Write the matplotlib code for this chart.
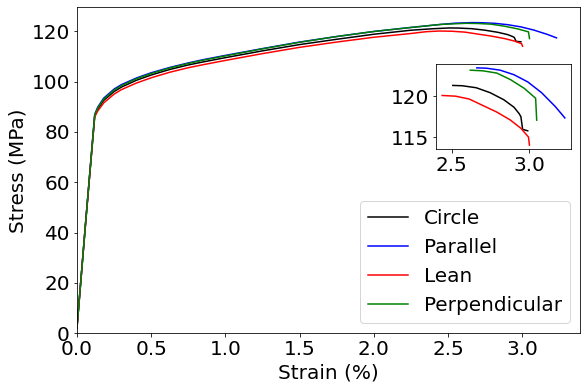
import matplotlib
matplotlib.use("Agg")
import matplotlib.pyplot as plt

# stress-strain data
circle_x = [0, 0.06, 0.12, 0.14, 0.18, 0.25, 0.3, 0.4, 0.5, 0.625, 0.75, 0.85, 1.0, 1.25, 1.5, 1.75, 2.0, 2.25, 2.4,
            2.507, 2.569, 2.658, 2.747, 2.836, 2.902, 2.936, 2.947, 2.958, 2.991]
circle_y = [2, 45, 86.5, 89, 92.5, 96, 97.8, 100.5, 102.6, 104.8, 106.6, 107.8, 109.5, 112.2, 114.7, 116.8, 118.8, 120.4, 121.0,
            121.3, 121.26, 121.02, 120.43, 119.57, 118.66, 117.87, 117.5, 115.98, 115.8]

parallel_x = [0, 0.06, 0.12, 0.14, 0.18, 0.25, 0.3, 0.4, 0.5, 0.625, 0.75, 0.85, 1.0, 1.25, 1.5, 1.75, 2.0, 2.25, 2.45, 2.55,
              2.662, 2.724, 2.813, 2.902, 2.991, 3.08, 3.169, 3.231]
parallel_y = [2, 45, 87, 89.8, 93.4, 97.0, 98.8, 101.4, 103.5, 105.6, 107.4, 108.7, 110.4, 113.1, 115.7, 117.9, 119.9, 121.5, 122.7, 123.2,
              123.43, 123.39, 123.15, 122.6, 121.73, 120.43, 118.74, 117.36]

lean_x = [0, 0.06, 0.12, 0.14, 0.18, 0.25, 0.3, 0.4, 0.5, 0.625, 0.75, 0.85, 1.0, 1.25, 1.5, 1.75, 2.0, 2.25, 2.35,
          2.438, 2.524, 2.613, 2.702, 2.791, 2.88, 2.947, 2.996, 3.002]
lean_y = [2, 45, 86, 88.3, 91.5, 95, 96.8, 99.4, 101.5, 103.7, 105.5, 106.7, 108.4, 111.1, 113.6, 115.7, 117.6, 119.1, 119.8,
          120.08, 120.0, 119.65, 118.86, 118.07, 117.09, 116.1, 115.04, 114.06]

perp_x = [0, 0.06, 0.12, 0.14, 0.18, 0.25, 0.3, 0.4, 0.5, 0.625, 0.75, 0.85, 1.0, 1.25, 1.5, 1.75, 2.0, 2.25, 2.45,
          2.62, 2.702, 2.791, 2.88, 2.969, 3.036, 3.042, 3.049]
perp_y = [2, 45, 86.8, 89.5, 93.0, 96.6, 98.4, 101.1, 103.2, 105.4, 107.2, 108.5, 110.2, 113.0, 115.6, 117.9, 119.9, 121.5, 122.7,
          123.15, 123.07, 122.8, 122.0, 120.94, 119.84, 119.76, 117.09]

names = ["Circle", "Parallel", "Lean", "Perpendicular"]
colors = ["black", "blue", "red", "green"]
xs = [circle_x, parallel_x, lean_x, perp_x]
ys = [circle_y, parallel_y, lean_y, perp_y]
# strain from which each curve is shown in the zoomed inset
inset_start = [2.5, 2.66, 2.43, 2.6]

plt.rcParams["font.size"] = 20

fig = plt.figure(figsize=(585 / 72, 389 / 72), dpi=72)
ax = fig.add_axes([0.1315, 0.1432, 0.8608, 0.8380])

for x, y, c, n in zip(xs, ys, colors, names):
    ax.plot(x, y, color=c, label=n)

ax.set_xlim(left=0)
ax.set_ylim(bottom=0)
ax.set_xlabel("Strain (%)")
ax.set_ylabel("Stress (MPa)")
ax.legend(loc="lower right")

ins = fig.add_axes([436 / 585, 1 - 149 / 389, 135 / 585, 85 / 389])
for x, y, c, s in zip(xs, ys, colors, inset_start):
    px = [a for a in x if a >= s]
    py = [b for a, b in zip(x, y) if a >= s]
    ins.plot(px, py, color=c)

fig.savefig("out.png", dpi=72)
